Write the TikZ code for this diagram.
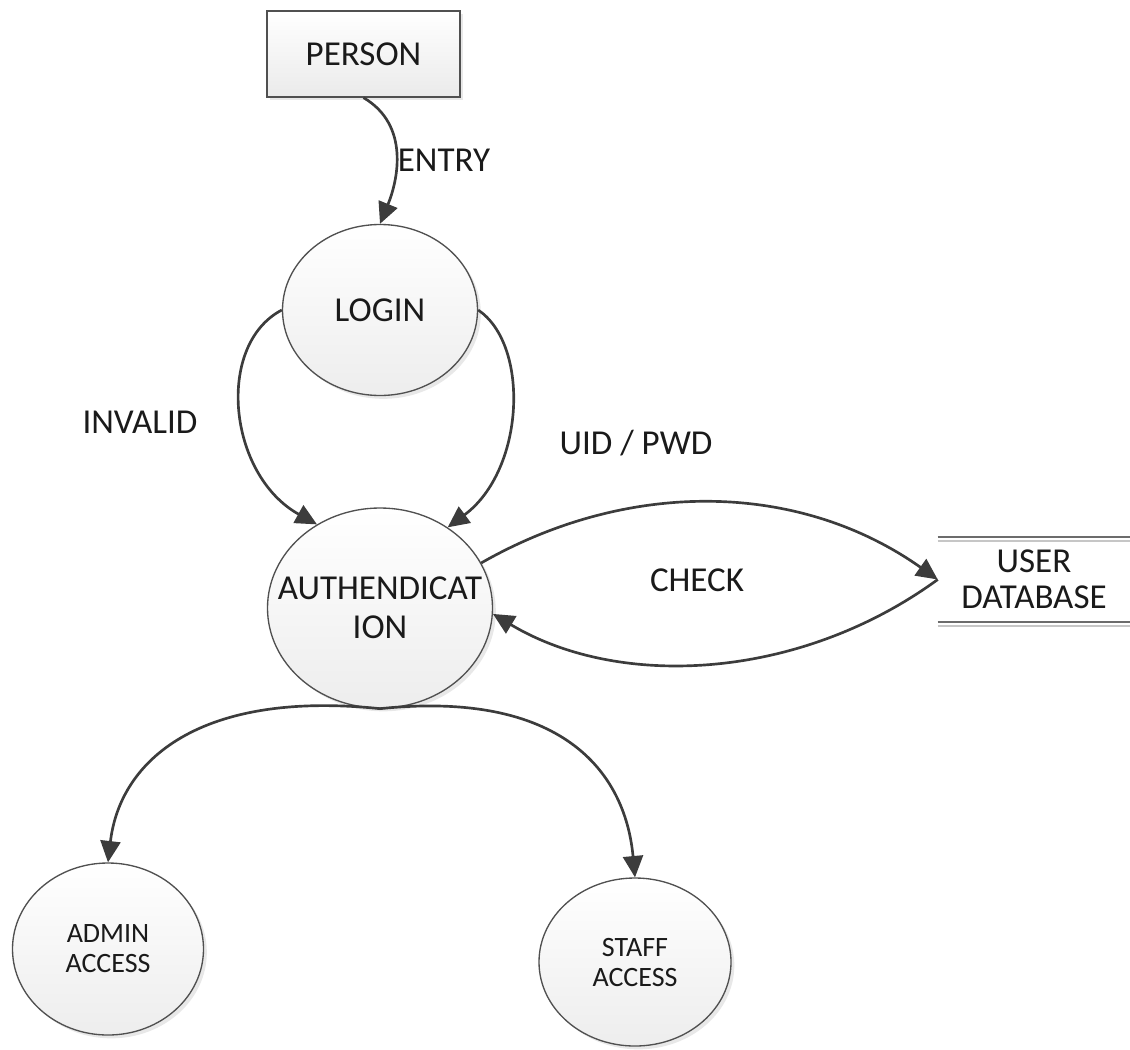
\documentclass[tikz,border=0pt]{standalone}
\usepackage{fontspec}
\setmainfont{Carlito}
\usetikzlibrary{arrows.meta,shapes.geometric,shadows}
\definecolor{linegray}{HTML}{3C3C3C}
\definecolor{bordergray}{HTML}{505050}
\definecolor{txtcol}{HTML}{1A1A1A}
\begin{document}
\begin{tikzpicture}[x=0.75pt,y=-0.75pt,
  bigfont/.style={font=\fontsize{26.25}{28.5}\selectfont,text=txtcol},
  smallfont/.style={font=\fontsize{21}{22.5}\selectfont,text=txtcol},
  proc/.style={ellipse,draw=bordergray,line width=1pt,top color=white,bottom color=gray!14,
    inner sep=0pt,align=center,
    drop shadow={opacity=0.18,shadow xshift=2.5pt,shadow yshift=-2.5pt}},
  entity/.style={rectangle,draw=bordergray,line width=1pt,top color=white,bottom color=gray!16,
    inner sep=0pt,bigfont,
    drop shadow={opacity=0.18,shadow xshift=2.5pt,shadow yshift=-2.5pt}},
  lbl/.style={bigfont,inner sep=0pt,text height=17pt,text depth=0pt},
  flow/.style={draw=linegray,line width=2pt,-{Triangle[length=16pt,width=15pt]}},
  storeline/.style={draw=gray!85!black,line width=1.2pt},
  storeshadow/.style={draw=gray!45,line width=1.2pt}
]
\useasboundingbox (0,0) rectangle (1130,1049);

% nodes
\node[entity,minimum width=144.75pt,minimum height=64.5pt] (person) at (363.5,54) {PERSON};
\node[proc,bigfont,minimum width=146.25pt,minimum height=128.25pt] (login) at (380,310) {LOGIN};
\node[proc,font=\fontsize{26.25}{29.25}\selectfont,text=txtcol,minimum width=168.75pt,minimum height=150pt] (auth) at (380,608)
  {\makebox[0pt]{AUTHENDICAT}\\\makebox[0pt]{ION}};
\node[proc,smallfont,minimum width=143.25pt,minimum height=129pt] (admin) at (108,949) {ADMIN\\ACCESS};
\node[proc,smallfont,minimum width=144pt,minimum height=126pt] (staff) at (635,962) {STAFF\\ACCESS};
\node[inner sep=0pt,align=center,font=\fontsize{26.25}{27}\selectfont,text=txtcol,minimum width=144pt,minimum height=63.75pt] (db) at (1034,579.5) {USER\\DATABASE};

% data store lines
\draw[storeshadow] ([yshift=-3pt]db.north west) -- ([yshift=-3pt]db.north east);
\draw[storeshadow] ([yshift=-3pt]db.south west) -- ([yshift=-3pt]db.south east);
\draw[storeline] (db.north west) -- (db.north east);
\draw[storeline] (db.south west) -- (db.south east);

% labels
\node[lbl] (lentry) at (444,160) {ENTRY};
\node[lbl] (linvalid) at (140,422) {INVALID};
\node[lbl] (luid) at (636,443) {UID / PWD};
\node[lbl] (lcheck) at (697,580) {CHECK};

% connectors
\draw[flow] (person.south) .. controls (410,125) and (398,180) .. (login.north);
\draw[flow] (login.west) .. controls (215,345) and (228,475) .. (auth.127);
\draw[flow] (login.east) .. controls (530,345) and (525,470) .. (auth.50);
\draw[flow] (auth.24) .. controls (630,478) and (800,482) .. (db.west);
\draw[flow] (db.west) .. controls (800,680) and (620,690) .. (auth.-3);
\draw[flow] (auth.south) .. controls (200,690) and (120,760) .. (admin.north);
\draw[flow] (auth.south) .. controls (560,690) and (625,770) .. (staff.north);
\end{tikzpicture}
\end{document}
